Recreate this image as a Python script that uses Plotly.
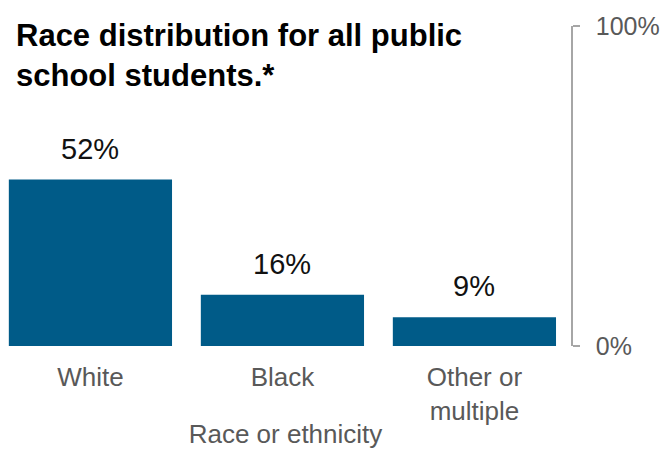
import plotly.graph_objects as go

# Share of public school students by race or ethnicity (percent)
categories = ["White", "Black", "Other or<br>multiple"]
shares = [52, 16, 9]
value_labels = ["52%", "16%", "9%"]
y_tick_values = [0, 100]
y_tick_labels = ["0%", "100%"]

BAR_COLOR = "#005b88"
AXIS_GRAY = "#a6a6a6"
LABEL_GRAY = "#595959"
FONT = "Liberation Sans, Arial, sans-serif"

fig = go.Figure(
    go.Bar(
        x=categories,
        y=shares,
        marker=dict(color=BAR_COLOR, line=dict(width=0)),
        hoverinfo="skip",
    )
)

# Value labels sitting above each bar
for cat, val, lab in zip(categories, shares, value_labels):
    fig.add_annotation(
        x=cat, y=val, text=lab, showarrow=False,
        xref="x", yref="y", yanchor="bottom", yshift=13,
        font=dict(family=FONT, size=29, color="#111111"),
    )

fig.update_layout(
    width=663, height=449,
    margin=dict(l=0, r=92, t=26, b=103),
    paper_bgcolor="white", plot_bgcolor="white",
    bargap=0.15,
    showlegend=False,
    font=dict(family=FONT, color=LABEL_GRAY),
    title=dict(
        text="<b>Race distribution for all public<br>school students.*</b>",
        font=dict(family=FONT, size=31, color="#000000"),
        xref="container", yref="container",
        x=16 / 663, xanchor="left",
        y=1 - 46 / 449, yanchor="top",
    ),
    xaxis=dict(
        range=[-0.471, 2.503],
        showline=False, showgrid=False, zeroline=False,
        ticks="", ticklabelstandoff=13,
        tickfont=dict(family=FONT, size=26, color=LABEL_GRAY),
        title=dict(
            text="Race or ethnicity",
            font=dict(family=FONT, size=26, color=LABEL_GRAY),
            standoff=3,
        ),
        fixedrange=True,
    ),
    yaxis=dict(
        range=[0, 100], side="right",
        showline=True, linecolor=AXIS_GRAY, linewidth=1.5,
        showgrid=False, zeroline=False,
        ticks="outside", ticklen=7, tickcolor=AXIS_GRAY, tickwidth=1.5,
        tickvals=y_tick_values, ticktext=y_tick_labels,
        ticklabelstandoff=11,
        tickfont=dict(family=FONT, size=25, color=LABEL_GRAY),
        fixedrange=True,
    ),
)

fig.write_html("out.html", config={"displayModeBar": False})
